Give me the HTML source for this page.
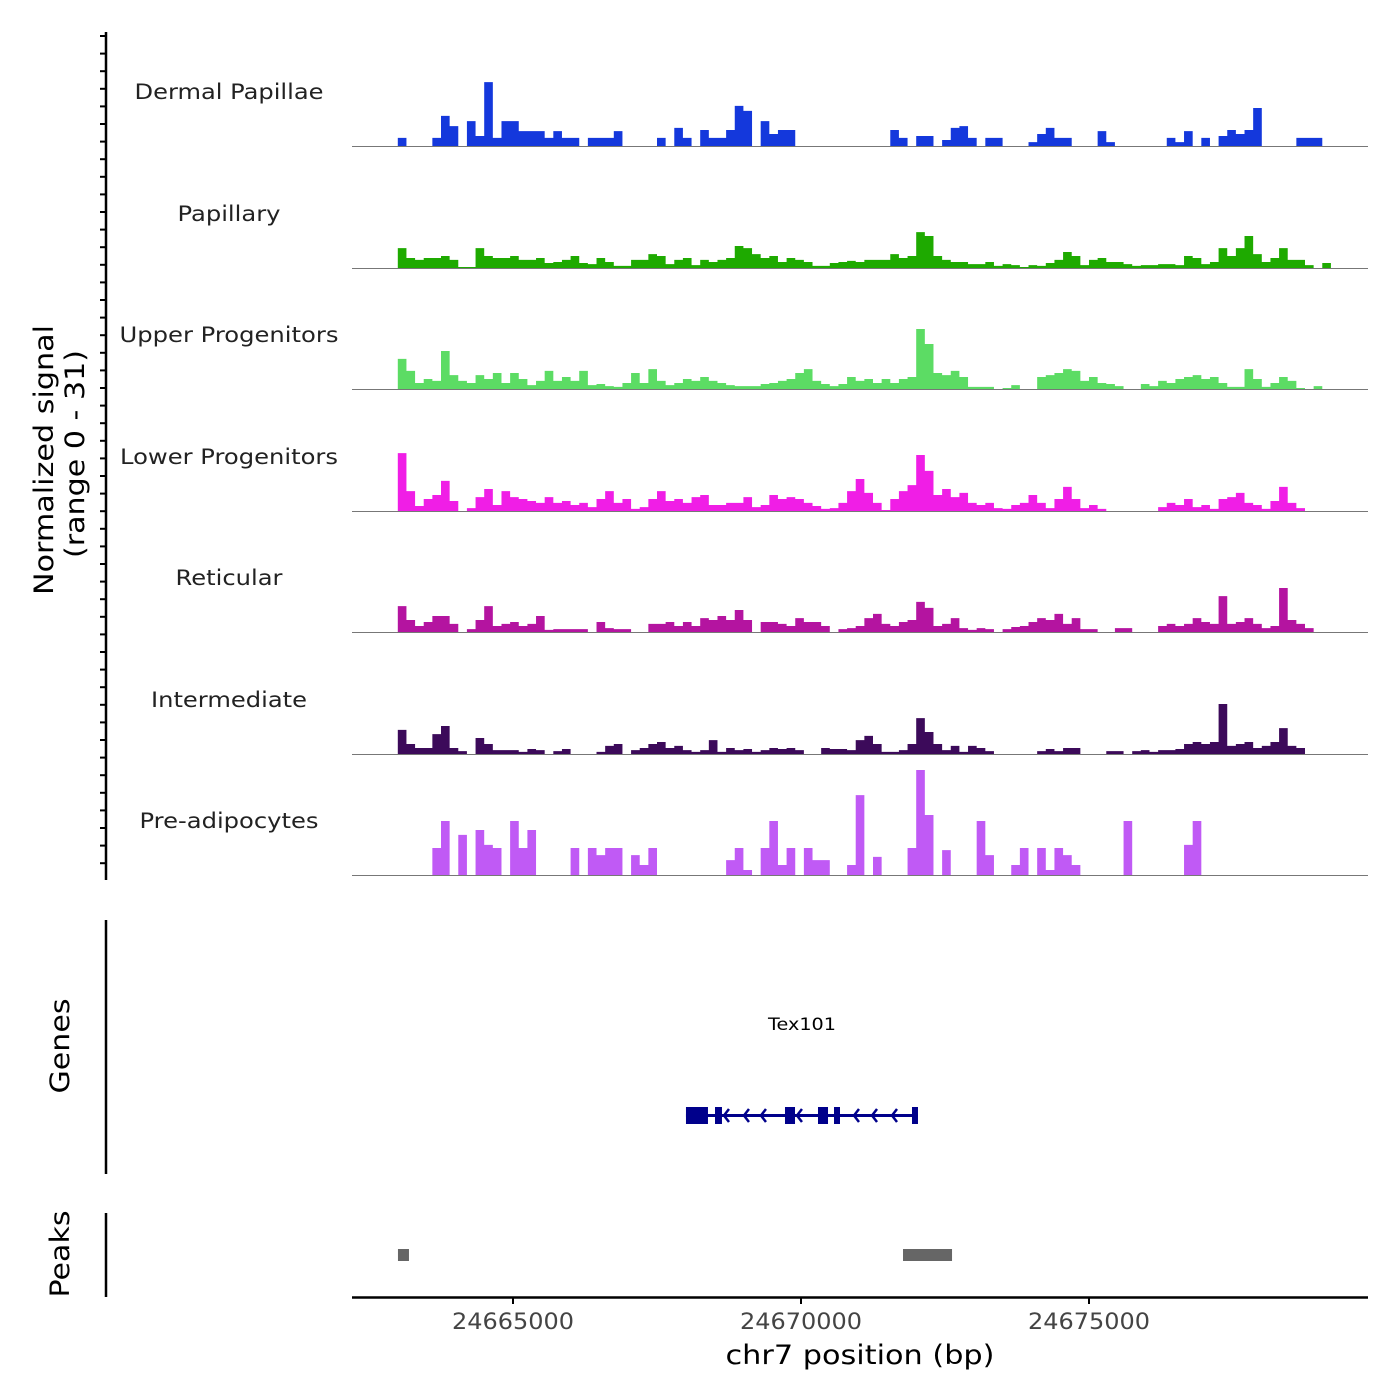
<!DOCTYPE html>
<html><head><meta charset="utf-8"><style>
html,body{margin:0;padding:0;background:#fff;}
svg{display:block;font-family:"DejaVu Sans","Liberation Sans",sans-serif;}
</style></head><body>
<svg id="chart" width="1400" height="1400" viewBox="0 0 1400 1400" xmlns="http://www.w3.org/2000/svg">
<g id="tracks"></g>
<g id="axes"></g>
</svg>
<script>
// ---- data ----
const trackNames = ["Dermal Papillae","Papillary","Upper Progenitors","Lower Progenitors","Reticular","Intermediate","Pre-adipocytes"];
const trackColors = ["#1438DC","#1EAA00","#5CDC64","#F01EE6","#B414A0","#3C0A5A","#C05AF5"];
const binStart = 24663000;
const binSize = 150;
const yMax = 31;
const sigDermal = [2.3,0,0,0,2.3,8.5,5.6,0,7,2.8,18,2.3,7,7,4.2,4.2,4.2,2.3,4.2,2.3,2.3,0,2.3,2.3,2.3,4.2,0,0,0,0,2.3,0,5.1,2.3,0,4.5,2.3,2.3,4.5,11.3,9.9,0,7,3.4,4.5,4.5,0,0,0,0,0,0,0,0,0,0,0,4.5,2.3,0,2.8,2.8,0,1.7,5.1,5.6,2.3,0,2.3,2.3,0,0,0,1.1,3.4,5.1,2.3,2.3,0,0,0,4.2,1.1,0,0,0,0,0,0,2.3,1.1,4.2,0,2.3,0,2.8,4.5,3.4,4.5,10.7,0,0,0,0,2.3,2.3,2.3,0];
const sigPapillary = [5.6,2.8,2.3,2.8,2.8,3.4,2.3,0.3,0.3,5.6,3.4,2.8,2.8,3.4,2.3,2.3,2.8,1.4,1.7,2.3,3.4,1.4,1.1,2.8,1.7,0.6,0.6,2.3,2.3,3.9,3.4,1.1,2.3,2.8,0.8,2.3,1.7,2.3,2.8,6.2,5.6,3.9,2.8,3.4,1.7,2.8,2.3,1.7,0.6,0.6,1.4,1.7,2,1.7,2.3,2.3,2.3,3.9,2.8,3.4,10.1,9,3.4,2.3,1.7,1.7,1.1,1.1,1.7,0.6,1.1,0.8,0.3,0.8,0.6,1.4,2.3,4.5,3.4,0.8,2.3,2.8,1.7,1.7,1.1,0.6,0.8,0.8,1.1,1.1,0.8,3.4,2.8,1.1,1.7,5.6,3.4,5.6,9,3.9,1.7,2.8,5.6,2.3,2.3,0.8,0,1.4];
const sigUpper = [8.5,5.1,1.7,2.8,2.3,10.7,3.9,2.3,1.7,3.9,2.8,4.5,1.7,4.5,2.8,1.1,2.3,5.1,2.3,3.4,2.3,5.1,1.1,1.4,0.8,0.6,1.7,4.5,1.7,5.6,2.3,1.1,1.7,2.8,2.3,3.4,2.3,1.7,1.1,0.8,0.8,0.8,1.4,1.7,2.3,2.8,4.5,5.6,2.3,1.4,0.8,1.4,3.4,2.3,2.8,1.7,2.8,1.7,2.8,3.4,16.9,12.7,4.5,3.9,5.1,3.4,0.6,0.6,0.6,0,0.3,1.1,0,0,3.4,3.9,4.5,5.6,5.1,2.3,3.4,1.7,1.4,0.8,0,0,1.4,0.8,2.3,1.7,2.8,3.4,3.9,2.8,3.4,1.7,0.6,0.6,5.6,2.8,0.6,1.7,3.4,2.3,0.3,0,0.8,0];
const sigLower = [16.3,5.6,1.4,3.4,4.5,8.5,2.8,0,0.8,3.9,6.2,1.7,5.6,3.9,3.4,2.8,2.3,3.9,2.3,2.8,1.7,2.3,1.1,3.4,5.6,2.3,3.4,0.6,1.1,3.4,5.6,2.8,3.4,2.3,3.9,4.5,1.7,1.7,2.3,2.3,3.9,1.1,1.7,4.5,3.4,3.9,3.4,2.3,1.4,0.6,0.8,2.3,5.6,9,5.1,2.3,0.3,3.4,5.6,7.3,15.8,11.3,4.5,6.2,3.9,5.1,2.3,1.7,2.3,0.8,0.6,1.7,2.3,4.5,2.3,0.8,3.4,6.8,3.4,0.8,1.7,0.6,0,0,0,0,0,0,1.1,2.3,1.7,3.4,1.1,1.7,0.6,3.4,3.9,5.1,2.3,1.7,0.6,2.8,6.8,2.3,0.8,0,0,0];
const sigReticular = [7.3,3.4,1.7,2.8,4.5,4.5,2.3,0,0.8,3.4,7.3,1.7,2.3,2.8,1.7,2.3,4.5,0.6,0.8,0.8,0.8,0.8,0,2.8,1.1,0.8,0.8,0,0,2.3,2.3,2.8,1.7,2.8,1.7,3.9,3.4,4.5,3.4,6.2,3.4,0,2.8,2.8,2.3,1.7,3.9,2.8,2.8,1.7,0,0.8,1.1,1.7,3.9,5.1,2.3,1.7,2.8,3.4,8.5,6.8,1.7,2.3,3.9,1.1,0.6,1.1,0.8,0,0.8,1.4,1.7,2.8,3.9,3.4,5.1,2.3,3.9,0.8,0.8,0,0,1.1,1.1,0,0,0,1.7,2.3,1.7,2.3,3.9,2.8,2.3,10.1,2.3,2.8,3.9,2.3,1.1,1.7,12.4,3.4,2.3,1.1,0,0];
const sigIntermediate = [6.8,2.8,1.7,1.7,5.6,7.9,1.7,0.8,0,4.5,2.8,1.1,1.1,1.1,0.6,1.4,1.1,0,0.8,1.4,0,0,0,0.6,2.3,2.8,0,1.1,1.7,2.8,3.4,1.7,2.3,1.1,0.6,1.1,3.9,0.6,1.7,1.1,1.4,0.6,1.1,1.7,1.4,1.7,1.1,0,0,1.7,1.4,1.4,1.1,3.9,5.1,2.8,0.6,0.6,1.1,2.8,10.1,6.2,2.8,1.1,2.3,0.6,2.3,1.7,0.8,0,0,0,0,0,0.8,1.4,0.8,1.7,1.7,0,0,0,0.8,0.8,0,0.8,1.1,0.6,1.1,1.1,1.4,2.8,3.4,2.8,3.4,14.1,2.3,2.8,3.4,1.7,2.3,3.4,7.3,2.3,1.7,0,0,0];
const sigPreadipo = [0,0,0,0,7.6,15.2,0,11.3,0,12.7,8.5,7.6,0,15.2,7.6,12.7,0,0,0,0,7.6,0,7.6,5.6,7.6,7.6,0,5.6,2.8,7.6,0,0,0,0,0,0,0,0,4.2,7.6,1.4,0,7.6,15.2,2.8,7.6,0,7.6,4.2,4.2,0,0,2.8,22.5,0,5.1,0,0,0,7.6,29.6,16.9,0,7,0,0,0,15.2,5.6,0,0,2.8,7.6,0,7.6,1.4,7.6,5.6,2.8,0,0,0,0,0,15.2,0,0,0,0,0,0,8.5,15.2,0,0,0,0,0,0,0,0,0,0,0,0,0,0,0];
const trackSignals = [sigDermal,sigPapillary,sigUpper,sigLower,sigReticular,sigIntermediate,sigPreadipo];
const xTicks = [24665000,24670000,24675000];
const exonStarts = [24668003,24668507,24669722,24670295,24670573,24671927];
const exonEnds   = [24668385,24668628,24669896,24670469,24670677,24672031];
const geneStart = 24668003, geneEnd = 24672031;
const chevrons = [24668663,24669010,24669305,24669930,24670920,24671233,24671580];
const peakStarts = [24663003,24671771];
const peakEnds   = [24663194,24672622];

// ---- scales ----
const NS="http://www.w3.org/2000/svg";
function xPos(bp){return 513+(bp-24665000)*0.0576;}
const baselines=[146,268,389,511,632,754,875];
const labelWidths=[189,103,219,218,107,156,179];
const trackH=110;
function yPos(k,v){return baselines[k]-v*trackH/yMax;}
function mk(tag,attrs,parent){const e=document.createElementNS(NS,tag);for(const k in attrs)e.setAttribute(k,attrs[k]);parent.appendChild(e);return e;}
const gT=document.getElementById('tracks');
const gA=document.getElementById('axes');
const fit={lengthAdjust:'spacingAndGlyphs'};

trackSignals.forEach((sig,k)=>{
  const g=mk('g',{},gT);
  
  
  let d='M'+xPos(binStart).toFixed(2)+' '+baselines[k];
  sig.forEach((v,i)=>{
    const x0=xPos(binStart+i*binSize), x1=xPos(binStart+(i+1)*binSize), y=yPos(k,v);
    d+=' L'+x0.toFixed(2)+' '+y.toFixed(2)+' L'+x1.toFixed(2)+' '+y.toFixed(2);
  });
  d+=' L'+xPos(binStart+sig.length*binSize).toFixed(2)+' '+baselines[k]+' Z';
  const p=mk('path',{d:d,fill:trackColors[k],stroke:'none'},g);
  
  
  const bl=mk('line',{x1:352,x2:1368,y1:baselines[k]+0.5,y2:baselines[k]+0.5,stroke:'#777','stroke-width':1},g);
  
  
  const t=mk('text',{x:229,y:baselines[k]-47,'text-anchor':'middle','font-size':21,fill:'#222',textLength:labelWidths[k],lengthAdjust:'spacingAndGlyphs'},g);
  t.textContent=trackNames[k];
  
  
});

// left y axis
const ya=mk('line',{x1:106,x2:106,y1:32,y2:880,stroke:'#000','stroke-width':2.5},gA);


for(let y=36;y<=880;y+=17.6){
  const tk=mk('line',{x1:100,x2:106,y1:y,y2:y,stroke:'#000','stroke-width':2},gA);
  
  
}
const yt=mk('text',{transform:'translate(53,460) rotate(-90)','text-anchor':'middle','font-size':27,fill:'#000',textLength:270,lengthAdjust:'spacingAndGlyphs'},gA);
yt.textContent='Normalized signal';


const yt2=mk('text',{transform:'translate(84,454) rotate(-90)','text-anchor':'middle','font-size':27,fill:'#000',textLength:208,lengthAdjust:'spacingAndGlyphs'},gA);
yt2.textContent='(range 0 - 31)';



// genes panel
const ga=mk('line',{x1:106,x2:106,y1:920,y2:1174,stroke:'#000','stroke-width':2.5},gA);


const gt=mk('text',{transform:'translate(69,1046) rotate(-90)','text-anchor':'middle','font-size':27,fill:'#000',textLength:95,lengthAdjust:'spacingAndGlyphs'},gA);
gt.textContent='Genes';


const gl=mk('text',{x:802,y:1030,'text-anchor':'middle','font-size':17,fill:'#000',textLength:68,lengthAdjust:'spacingAndGlyphs'},gA);
gl.textContent='Tex101';


const gm=mk('g',{},gA);


const gline=mk('line',{x1:xPos(geneStart),x2:xPos(geneEnd),y1:1115.5,y2:1115.5,stroke:'#00008B','stroke-width':3},gm);


exonStarts.forEach((s,i)=>{
  const r=mk('rect',{x:xPos(s),y:1107,width:xPos(exonEnds[i])-xPos(s),height:17,fill:'#00008B'},gm);
  
  
});
chevrons.forEach(c=>{
  const x=xPos(c);
  const pl=mk('polyline',{points:(x+5)+',1109 '+x+',1115.5 '+(x+5)+',1122',fill:'none',stroke:'#00008B','stroke-width':2.5},gm);
  
  
});

// peaks panel
const pa=mk('line',{x1:106,x2:106,y1:1213,y2:1297,stroke:'#000','stroke-width':2.5},gA);


const pt=mk('text',{transform:'translate(69,1254) rotate(-90)','text-anchor':'middle','font-size':27,fill:'#000',textLength:87,lengthAdjust:'spacingAndGlyphs'},gA);
pt.textContent='Peaks';


peakStarts.forEach((s,i)=>{
  const r=mk('rect',{x:xPos(s),y:1249,width:xPos(peakEnds[i])-xPos(s),height:12,fill:'#666'},gA);
  
  
});

// x axis
const xa=mk('line',{x1:352,x2:1368,y1:1297.5,y2:1297.5,stroke:'#000','stroke-width':2.5},gA);


xTicks.forEach(v=>{
  const x=xPos(v);
  const tk=mk('line',{x1:x,x2:x,y1:1297,y2:1304,stroke:'#000','stroke-width':2},gA);
  
  
  const tl=mk('text',{x:x,y:1329,'text-anchor':'middle','font-size':22,fill:'#444',textLength:122,lengthAdjust:'spacingAndGlyphs'},gA);
  tl.textContent=String(v);
  
  
});
const xt=mk('text',{x:860,y:1364,'text-anchor':'middle','font-size':27,fill:'#000',textLength:269,lengthAdjust:'spacingAndGlyphs'},gA);
xt.textContent='chr7 position (bp)';


</script>
</body></html>
